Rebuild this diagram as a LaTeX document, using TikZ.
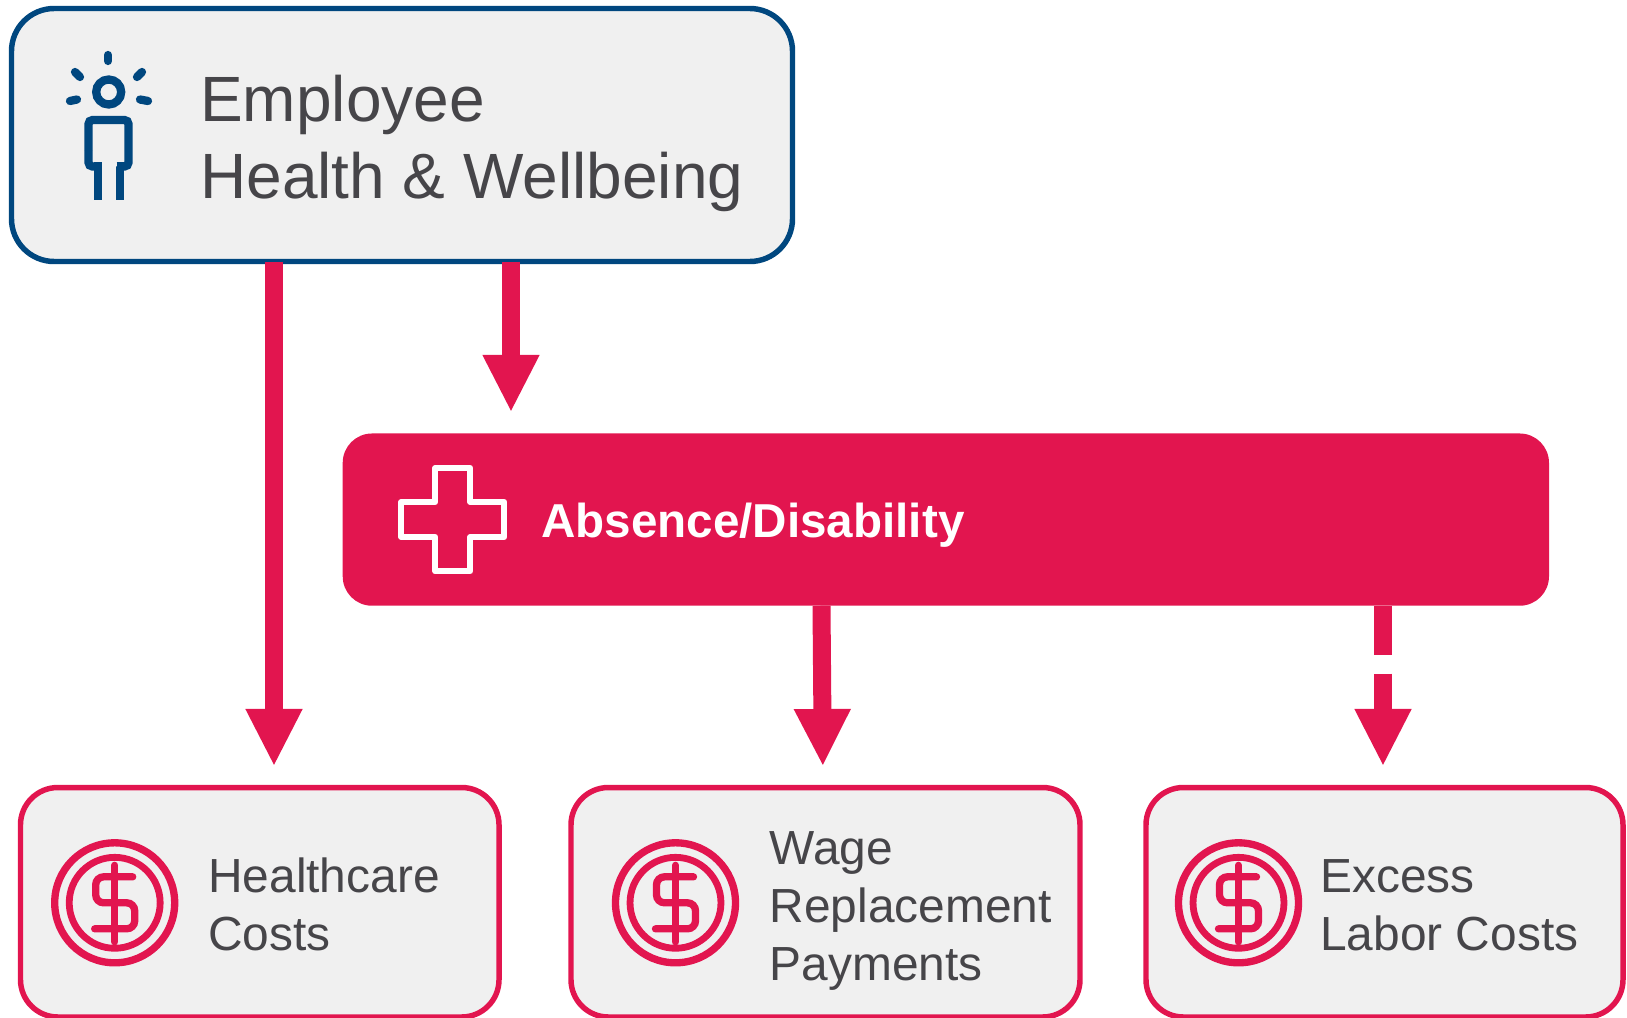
\documentclass[tikz,border=0pt]{standalone}
\usepackage{fontspec}
\setmainfont{Liberation Sans}
\usetikzlibrary{arrows.meta}
\definecolor{crimson}{HTML}{E2154F}
\definecolor{navy}{HTML}{00477F}
\definecolor{panel}{HTML}{F0F0F0}
\definecolor{ink}{HTML}{464549}
\tikzset{
  panelbox/.style={draw,fill=panel,line width=4.1pt,inner sep=0pt,outer sep=0pt},
  topbox/.style={panelbox,draw=navy,rounded corners=32pt,minimum width=585.75pt,minimum height=189.75pt},
  costbox/.style={panelbox,draw=crimson,rounded corners=28pt,minimum height=172.1pt},
  redbox/.style={fill=crimson,rounded corners=22pt,inner sep=0pt,outer sep=0pt,minimum width=904.7pt,minimum height=129.2pt},
  bigtext/.style={text=ink,anchor=base west,inner sep=0pt,align=left,font=\fontsize{48}{57.5}\selectfont},
  smalltext/.style={text=ink,anchor=base west,inner sep=0pt,align=left,font=\fontsize{35.9}{43.5}\selectfont},
  boldtext/.style={text=white,anchor=base west,inner sep=0pt,font=\fontsize{35.7}{43.5}\selectfont\bfseries},
  flow/.style={draw=crimson,line width=13.5pt,-{Triangle[length=43pt,width=39.5pt]},shorten >=15.9pt},
  iconline/.style={line width=5.5pt,line cap=round,crimson},
  personline/.style={line width=6.2pt,navy},
  crossline/.style={line width=4.5pt,white,line join=round},
  pics/coin/.style={code={
    \draw[crimson,line width=5.5pt] (0,0) circle[radius=45pt];
    \draw[crimson,line width=5.1pt] (0,0) circle[radius=34.1pt];
    \draw[iconline] (0,-37.5) -- (0,39);
    \draw[iconline,rounded corners=6pt] (18,-26) -- (-19,-26) -- (-19,0) -- (20,0) -- (20,26) -- (-20,26);
  }}
}
\begin{document}
\begin{tikzpicture}[x=.75pt,y=-.75pt]
\useasboundingbox (0,0) rectangle (1627,1017);
% boxes
\node[topbox] (emp) at (402,135) {};
\node[redbox] (abs) at (945.85,519.6) {};
\node[costbox,minimum width=358.9pt] (hc) at (259.75,902.25) {};
\node[costbox,minimum width=381.75pt] (wage) at (825.5,902.25) {};
\node[costbox,minimum width=357.75pt] (excess) at (1384.5,902.25) {};
% x positions of connectors
\coordinate (xa) at (274,0);
\coordinate (xb) at (511,0);
\coordinate (xc) at (821.5,0);
\coordinate (xd) at (823,0);
\coordinate (xe) at (1383,0);
% connectors
\draw[flow] (emp.south -| xa) -- (hc.north -| xa);
\draw[flow] (emp.south -| xb) -- (abs.north -| xb);
\draw[flow] (abs.south -| xc) -- (wage.north -| xd);
\draw[flow,dash pattern=on 37pt off 14pt on 300pt] (abs.south -| xe) -- (excess.north -| xe);
% texts
\node[bigtext] (emptext) at (200,198) {Employee\\Health \& Wellbeing};
\node[boldtext] (abstext) at (541,537.3) {Absence/Disability};
\node[smalltext] (hctext) at (208,950) {Healthcare\\Costs};
\node[smalltext] (wagetext) at (769.5,980.5) {Wage\\Replacement\\Payments};
\node[smalltext] (excesstext) at (1320,950) {Excess\\Labor Costs};
% person icon
\draw[personline] (108.7,92) circle[radius=12.5];
\draw[personline,line cap=round] (108,55) -- (108,61);
\draw[personline,line cap=round] (75,72) -- (80,77);
\draw[personline,line cap=round] (142,72) -- (137,77);
\draw[personline,line cap=round] (70,101) -- (77,99.5);
\draw[personline,line cap=round] (148,101) -- (140,99.5);
\draw[personline,rounded corners=3pt] (88.5,150) -- (88.5,120) -- (128.5,120) -- (128.5,166.5) -- (120,166.5);
\draw[personline,rounded corners=3pt] (88.5,150) -- (88.5,166.5) -- (98,166.5);
\draw[personline] (101.5,166.5) -- (98,166.5) -- (98,200);
\draw[personline] (116.5,166.5) -- (120,166.5) -- (120,200);
% cross icon
\draw[crossline] (435.3,468) -- (470.3,468) -- (470.3,502) -- (504.3,502) -- (504.3,537) -- (470.3,537) -- (470.3,571.3) -- (435.3,571.3) -- (435.3,537) -- (401.3,537) -- (401.3,502) -- (435.3,502) -- cycle;
% coin icons
\pic at (114.7,902.8) {coin};
\pic at (675.5,902.8) {coin};
\pic at (1238.5,902.8) {coin};
\end{tikzpicture}
\end{document}
